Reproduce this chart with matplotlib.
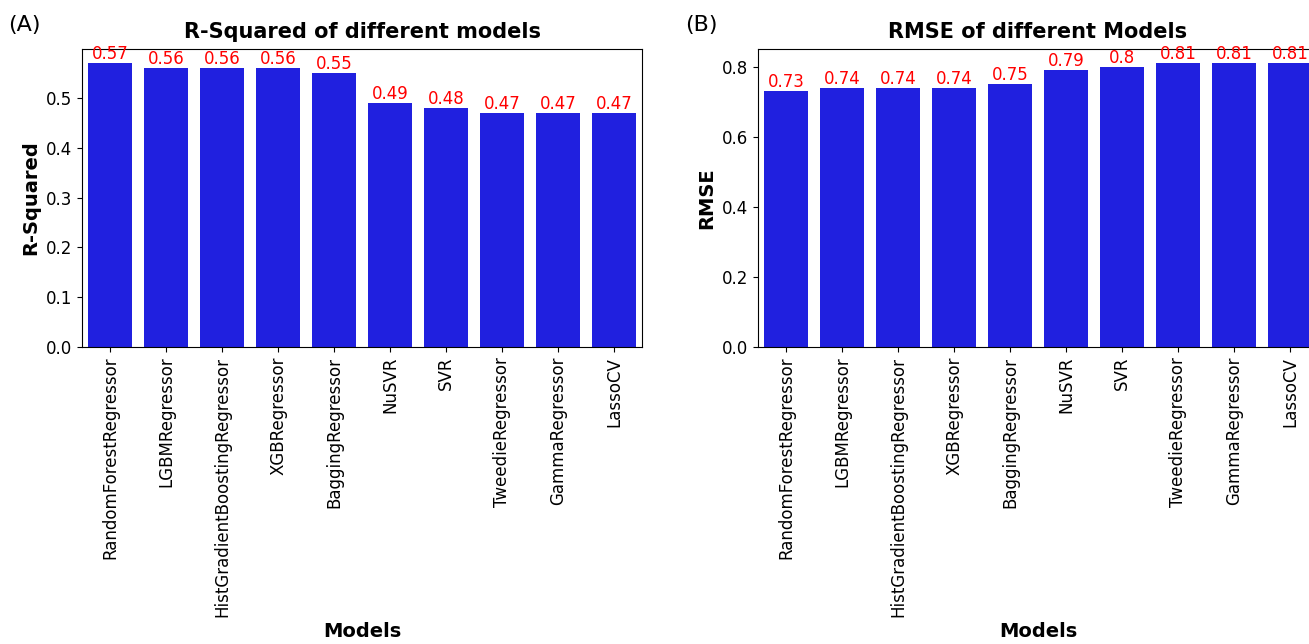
import matplotlib
matplotlib.use("Agg")
import matplotlib.pyplot as plt
import seaborn as sns
import pandas as pd

models = ["RandomForestRegressor", "LGBMRegressor", "HistGradientBoostingRegressor",
          "XGBRegressor", "BaggingRegressor", "NuSVR", "SVR", "TweedieRegressor",
          "GammaRegressor", "LassoCV"]
r_squared = [0.57, 0.56, 0.56, 0.56, 0.55, 0.49, 0.48, 0.47, 0.47, 0.47]
rmse = [0.73, 0.74, 0.74, 0.74, 0.75, 0.79, 0.80, 0.81, 0.81, 0.81]
rmse_labels = ["0.73", "0.74", "0.74", "0.74", "0.75", "0.79", "0.8", "0.81", "0.81", "0.81"]
r2_labels = ["0.57", "0.56", "0.56", "0.56", "0.55", "0.49", "0.48", "0.47", "0.47", "0.47"]

df = pd.DataFrame({"Models": models, "R-Squared": r_squared, "RMSE": rmse})

W, H = 1309, 644
fig = plt.figure(figsize=(W / 100, H / 100), dpi=100)

def px_axes(x0, y0, x1, y1):
    return fig.add_axes([x0 / W, 1 - y1 / H, (x1 - x0) / W, (y1 - y0) / H])

# the second panel runs a little past the right edge of the canvas
ax1 = px_axes(82, 49, 642, 347)
ax2 = px_axes(758, 49, 1318, 347)

panels = [
    (ax1, "R-Squared", "R-Squared of different models", r2_labels),
    (ax2, "RMSE", "RMSE of different Models", rmse_labels),
]

for ax, col, title, labels in panels:
    sns.barplot(data=df, x="Models", y=col, color="blue", ax=ax)
    for patch, lab in zip(ax.patches, labels):
        ax.text(patch.get_x() + patch.get_width() / 2, patch.get_height(), lab,
                ha="center", va="bottom", color="red", fontsize=12)
    ax.set_title(title, fontsize=15, fontweight="bold", pad=8)
    ax.set_xlabel("Models", fontsize=14, fontweight="bold")
    ax.set_ylabel(col, fontsize=14, fontweight="bold")
    ax.tick_params(axis="x", labelrotation=90, labelsize=12)
    ax.tick_params(axis="y", labelsize=12)
    ax.set_ylim(0, max(p.get_height() for p in ax.patches) * 1.05)

ax1.set_yticks([0.0, 0.1, 0.2, 0.3, 0.4, 0.5])
ax2.set_yticks([0.0, 0.2, 0.4, 0.6, 0.8])

fig.text(8 / W, 1 - 25 / H, "(A)", fontsize=16, va="center", ha="left")
fig.text(685 / W, 1 - 25 / H, "(B)", fontsize=16, va="center", ha="left")

fig.savefig("out.png", dpi=100)
